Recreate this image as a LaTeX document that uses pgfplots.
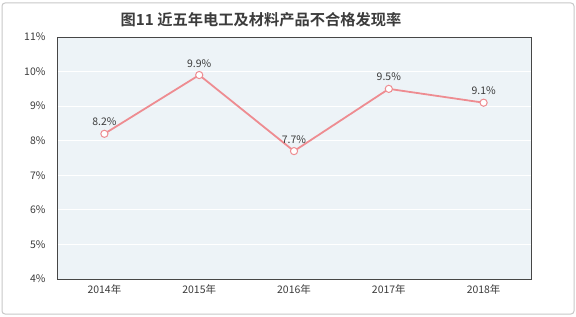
\documentclass[border=0pt]{standalone}
\usepackage{pgfplots}
\pgfplotsset{compat=1.18}
\usepackage{fontspec}
\setmainfont{Liberation Sans}
\newfontfamily\cjk{Noto Sans CJK SC}
\newfontfamily\cjkb{Noto Sans CJK SC Bold}
\definecolor{linec}{RGB}{238,140,145}
\definecolor{plotbg}{RGB}{237,243,247}
\definecolor{txt}{RGB}{60,60,60}
\begin{document}
\begin{tikzpicture}[x=1bp,y=1bp]
\useasboundingbox (0,0) rectangle (576,316);
\fill[white] (0,0) rectangle (576,316);
\draw[rounded corners=3bp, draw={rgb,255:red,200;green,200;blue,200}, line width=1bp] (2,2) rectangle (574,313);
\node[font=\cjkb\fontsize{15.3}{15}\selectfont, text=txt] at (261,296) {图11\ 近五年电工及材料产品不合格发现率};
\begin{axis}[
  at={(57bp,37bp)}, anchor=south west,
  scale only axis, width=474bp, height=242bp,
  xmin=-0.5, xmax=4.5, ymin=4, ymax=11,
  xtick={0,1,2,3,4},
  xticklabels={2014年,2015年,2016年,2017年,2018年},
  ytick={4,5,6,7,8,9,10,11},
  yticklabel={\pgfmathprintnumber{\tick}\%},
  /pgf/number format/assume math mode=true,
  tick style={draw=none},
  axis background/.style={fill=plotbg},
  axis line style={draw={rgb,255:red,70;green,70;blue,70}, line width=0.9bp},
  ymajorgrids, grid style={white, line width=1bp},
  xticklabel style={font=\cjk\fontsize{10.5}{10}\selectfont, text=txt, yshift=-2bp},
  yticklabel style={font=\cjk\fontsize{10.5}{10}\selectfont, text=txt, xshift=-8bp},
  clip=false,
]
\addplot[color=linec, line width=1.8bp, mark=*, mark size=3.6bp,
  mark options={fill=white, draw=linec, line width=1bp},
  nodes near coords={\pgfmathprintnumber[fixed, precision=1]{\pgfplotspointmeta}\%},
  every node near coord/.style={font=\cjk\fontsize{10.5}{10}\selectfont, text=txt, anchor=south, yshift=4bp},
  point meta=y]
coordinates {(0,8.2) (1,9.9) (2,7.7) (3,9.5) (4,9.1)};
\end{axis}
\end{tikzpicture}
\end{document}
